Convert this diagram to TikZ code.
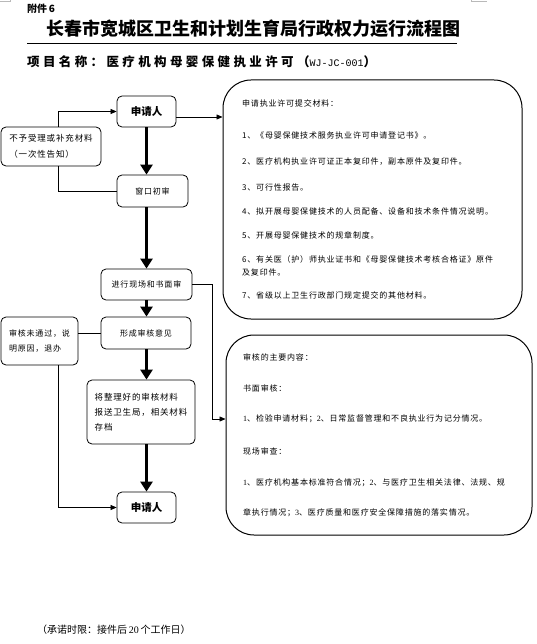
\documentclass[tikz,border=0pt]{standalone}
\usepackage{fontspec}
\setmainfont{Liberation Serif}
\setmonofont{Liberation Mono}
\newfontfamily\cjk{Noto Sans CJK SC}
\newfontfamily\cjksp[LetterSpace=10]{Noto Sans CJK SC}
\newfontfamily\cjkwide[LetterSpace=27]{Noto Sans CJK SC}
\usetikzlibrary{arrows.meta,calc}
\begin{document}
\begin{tikzpicture}[x=1pt,y=-1pt,
  box/.style={draw, rounded corners=5pt, line width=0.8pt, inner sep=0pt, align=left,
              font=\cjksp\fontsize{8}{15}\selectfont},
  big/.style={draw, rounded corners=28pt, line width=1pt, inner sep=0pt},
  fat/.style={line width=3pt, -{Triangle[width=12pt,length=10pt]}},
  thinarrow/.style={line width=0.7pt, -{Triangle[width=5pt,length=6pt]}},
  conn/.style={line width=0.7pt},
  txt/.style={anchor=west, inner sep=0pt, font=\cjksp\fontsize{8}{9}\selectfont},
  txtb/.style={anchor=west, inner sep=0pt, font=\cjksp\fontsize{8}{9}\selectfont}]
\useasboundingbox (0,0) rectangle (537,644);

% page marks
\draw[gray!55, line width=0.6pt] (0,1) -- (10,1) -- (10,0);
\draw[gray!55, line width=0.6pt] (471,0) -- (471,1.5) -- (487,1.5);

% headers
\node[anchor=west, inner sep=0pt, font=\cjk\bfseries\fontsize{10}{11}\selectfont] (att) at (27,9) {附件\,6};
\node[anchor=west, inner sep=0pt, font=\cjk\bfseries\fontsize{18}{20}\selectfont] (title) at (46,29) {长春市宽城区卫生和计划生育局行政权力运行流程图};
\draw[line width=1pt] (27,44) -- (457,44);
\node[anchor=west, inner sep=0pt, font=\cjkwide\bfseries\fontsize{12.5}{14}\selectfont] (sub) at (27,62)
  {项目名称：医疗机构母婴保健执业许可（{\ttfamily\mdseries\fontsize{10}{10}\selectfont WJ-JC-001}）};

% left flow
\node[box, minimum width=59pt, minimum height=31pt, font=\cjk\bfseries\fontsize{10.5}{12}\selectfont] (r1) at (146.5,111.5) {申请人};
\node[box, minimum width=71pt, minimum height=32pt] (w1) at (152.5,191) {窗口初审};
\node[box, minimum width=100pt, minimum height=39pt, font=\cjksp\fontsize{8.5}{16}\selectfont] (n1) at (51,146.5) {不予受理或补充材料\\（一次性告知）};
\node[box, minimum width=91pt, minimum height=31pt] (p3) at (146.5,284.5) {进行现场和书面审};
\node[box, minimum width=90pt, minimum height=32pt] (p4) at (146,333) {形成审核意见};
\node[box, minimum width=77pt, minimum height=48pt] (n2) at (39.5,341) {审核未通过，说\\明原因，退办};
\node[box, minimum width=108pt, minimum height=64pt, font=\cjksp\fontsize{8.5}{15}\selectfont] (p5) at (141,412) {将整理好的审核材料\\报送卫生局，相关材料\\存档};
\node[box, minimum width=59pt, minimum height=31pt, font=\cjk\bfseries\fontsize{10.5}{12}\selectfont] (r2) at (146.5,507.5) {申请人};

% big boxes
\node[big, minimum width=299pt, minimum height=239pt] (b1) at (372.5,199.5) {};
\node[big, minimum width=306pt, minimum height=200pt] (b2) at (379,435) {};

% box 1 text
\node[txt] (t1) at (242,103) {申请执业许可提交材料：};
\node[txt] (t2) at (242,135) {1、《母婴保健技术服务执业许可申请登记书》。};
\node[txt] (t3) at (242,162) {2、医疗机构执业许可证正本复印件，副本原件及复印件。};
\node[txt] (t4) at (242,187) {3、可行性报告。};
\node[txt] (t5) at (242,211) {4、拟开展母婴保健技术的人员配备、设备和技术条件情况说明。};
\node[txt] (t6) at (242,235) {5、开展母婴保健技术的规章制度。};
\node[txt] (t7) at (242,259) {6、有关医（护）师执业证书和《母婴保健技术考核合格证》原件};
\node[txt] (t8) at (242,272) {及复印件。};
\node[txt] (t9) at (242,295) {7、省级以上卫生行政部门规定提交的其他材料。};

% box 2 text
\node[txtb] (u1) at (243,357) {审核的主要内容：};
\node[txtb] (u2) at (243,388) {书面审核：};
\node[txtb] (u3) at (243,419) {{\rmfamily 1}、检验申请材料；{\rmfamily 2}、日常监督管理和不良执业行为记分情况。};
\node[txtb] (u4) at (243,451) {现场审查：};
\node[txtb] (u5) at (243,483) {{\rmfamily 1}、医疗机构基本标准符合情况；{\rmfamily 2}、与医疗卫生相关法律、法规、规};
\node[txtb] (u6) at (243,513) {章执行情况；{\rmfamily 3}、医疗质量和医疗安全保障措施的落实情况。};

% footer
\node[anchor=west, inner sep=0pt, font=\cjk\fontsize{10}{11}\selectfont] (foot) at (37,630)
  {（承诺时限：接件后{\rmfamily\,20\,}个工作日）};

% thick vertical arrows
\draw[fat] (r1.south) -- (r1.south |- w1.north);
\draw[fat] (r1.south |- w1.south) -- (r1.south |- p3.north);
\draw[fat] (r1.south |- p3.south) -- (r1.south |- p4.north);
\draw[fat] (r1.south |- p4.south) -- (r1.south |- p5.north);
\draw[fat] (r1.south |- p5.south) -- (r1.south |- r2.north);

% thin connectors
\coordinate (a1) at ($(r1.east)+(0,5.5)$);
\draw[thinarrow] (a1) -- (a1 -| b1.west);
\draw[thinarrow] ($(n1.north)+(7.5,0)$) |- (r1.west);
\draw[conn] ($(n1.south)+(7.5,0)$) |- (w1.west);
\coordinate (k2) at (212,419);
\draw[thinarrow] (p3.east) -| (k2) -- (k2 -| b2.west);
\draw[conn] (p4.west) -- (p4.west -| n2.east);
\draw[thinarrow] ($(n2.south)+(18.5,0)$) |- (r2.west);
\end{tikzpicture}
\end{document}
